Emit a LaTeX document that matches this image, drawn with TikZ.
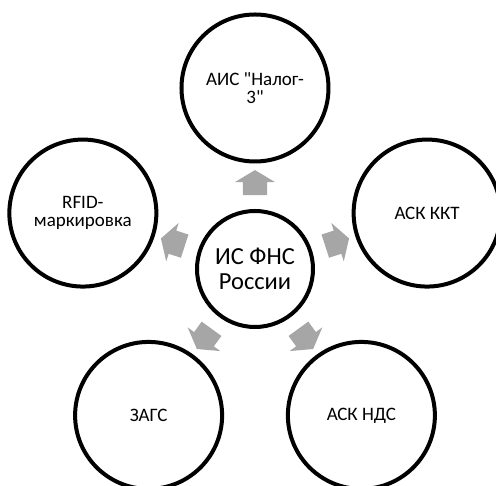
\documentclass[tikz,border=0pt]{standalone}
\usepackage{fontspec}
\setmainfont{Carlito}[Ligatures=TeXOff]
\usetikzlibrary{shapes.arrows}

\begin{document}
\begin{tikzpicture}[x=1pt, y=1pt,
  hub/.style={circle, draw=black, line width=4pt, minimum size=116pt,
    inner sep=0pt, align=center, font=\fontsize{24.5}{25.5}\selectfont},
  sat/.style={circle, draw=black, line width=4pt, minimum size=147pt,
    inner sep=0pt, align=center, font=\fontsize{19}{18}\selectfont},
  flow/.style={single arrow, fill=black!35, draw=none, minimum height=25pt,
    minimum width=0pt, inner xsep=0pt, inner ysep=12pt,
    single arrow head extend=8pt, single arrow tip angle=118,
    outer sep=0pt, sloped, allow upside down}]
  \useasboundingbox (-255,-217) rectangle (241,269);
  %--- central node ---
  \node[hub] (fns) at (0,0) {ИС ФНС\\России};
  %--- outer nodes ---
  \node[sat] (nalog) at (90:181) {АИС "Налог-\\3"};
  \node[sat] (kkt) at (18:181) {АСК ККТ};
  \node[sat] (nds) at (-54:181) {АСК НДС};
  \node[sat] (zags) at (-126:181) {ЗАГС};
  \node[sat] (rfid) at (162:181) {RFID-\\маркировка};
  %--- block arrows between the borders ---
  \path (fns) -- node[flow] {} (nalog);
  \path (fns) -- node[flow] {} (kkt);
  \path (fns) -- node[flow] {} (nds);
  \path (fns) -- node[flow] {} (zags);
  \path (fns) -- node[flow] {} (rfid);
\end{tikzpicture}
\end{document}
